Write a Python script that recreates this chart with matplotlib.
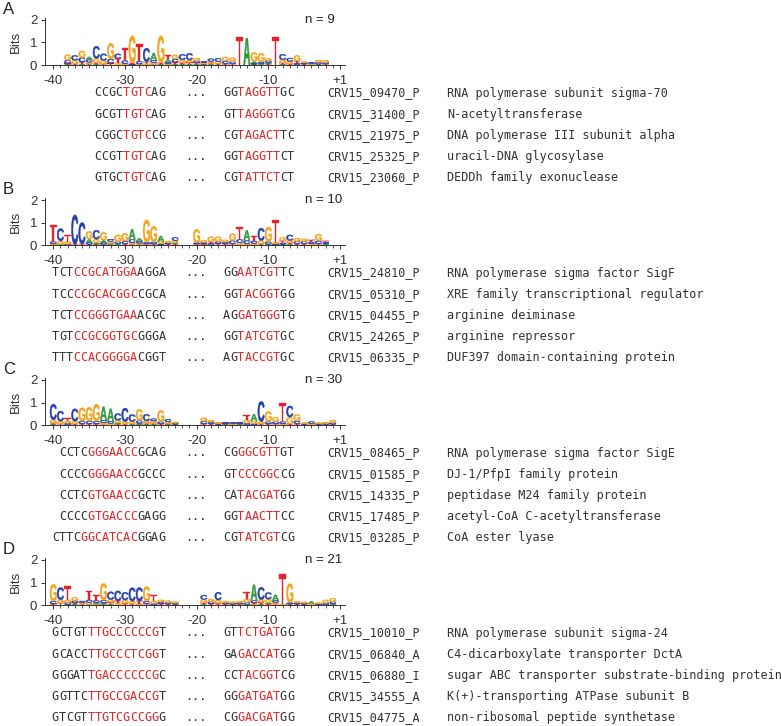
import matplotlib
matplotlib.use('Agg')
import matplotlib.pyplot as plt
from matplotlib.textpath import TextPath
from matplotlib.patches import PathPatch
from matplotlib.font_manager import FontProperties
from matplotlib.transforms import Affine2D

# ---- data ----
PANEL_LABELS = ['A', 'B', 'C', 'D']
N_SITES = [9, 10, 30, 21]
TICK_POS = [-40, -30, -20, -10, 1]
TICK_LABELS = ['-40', '-30', '-20', '-10', '+1']

# information content per position, "letter+bits", bottom to top
LOGO_A = {
    -38: "A.03 T.04 C.14 G.25", -37: "T.05 G.16 C.22", -36: "A.05 T.08 C.2 G.3",
    -35: "T.04 G.08 C.12 A.12", -34: "A.04 T.05 G.2 C.55", -33: "T.05 G.15 C.3",
    -32: "T.07 C.2 G.7", -31: "G.1 T.18 C.22", -30: "G.05 C.15 T.55",
    -29: "C.05 T.05 G1.2", -28: "G.04 C.12 T.78", -27: "G.05 T.1 C.6",
    -26: "T.03 G.08 C.1 A.32", -25: "A.05 T.05 G1.2", -24: "G.05 C.08 A.12 T.2",
    -23: "A.04 T.08 C.15 G.18", -22: "A.03 T.08 G.12 C.25", -21: "A.04 T.08 G.1 C.3",
    -20: "A.03 T.06 C.1 G.12", -19: "A.02 T.04 G.05 C.06", -18: "A.03 T.05 G.08 C.12",
    -17: "T.05 G.1 C.15", -16: "T.06 C.12 G.18", -15: "T.05 C.1 G.18",
    -14: "T1.25", -13: "A1.2", -12: "T.03 C.05 A.08 G.4", -11: "A.05 C.08 G.4",
    -10: "T.05 A.06 C.08 G.1", -9: "T1.25", -8: "A.03 T.08 G.12 C.25",
    -7: "T.06 G.1 C.15", -6: "C.08 T.1 G.25", -5: "T.04 C.05 G.06",
    -4: "A.03 G.04 C.05", -3: "A.04 C.08 G.1", -2: "T.04 C.07 G.1",
}
LOGO_B = {
    -40: "G.05 C.1 T.75", -39: "A.03 G.15 C.55", -38: "C.03 G.12 T.3",
    -37: "T.04 C1.3", -36: "T.05 C.95", -35: "T.03 C.08 A.15 G.35",
    -34: "T.03 A.08 G.15 C.4", -33: "T.03 C.08 A.1 G.35", -32: "T.03 A.05 G.08 C.1",
    -31: "A.05 C.1 G.3", -30: "T.05 C.12 G.35", -29: "T.03 G.07 C.15 A.45",
    -28: "T.03 G.05 C.1 A.12", -27: "T.04 C.08 G1.0", -26: "T.04 C.1 G.7",
    -25: "C.05 G.1 A.25", -24: "T.04 C.06 G.08", -23: "T.04 A.05 G.1 C.15",
    -20: "T.04 C.06 G.6", -19: "A.02 T.04 C.06 G.08", -18: "C.07 T.08 G.22",
    -17: "T.07 C.08 G.22", -16: "T.05 C.08 G.1", -15: "T.05 C.15 G.3",
    -14: "G.1 C.15 T.55", -13: "G.05 C.15 A.45", -12: "G.06 C.12 T.22",
    -11: "T.05 G.15 C.55", -10: "A.03 C.12 G.65", -9: "C.05 G.08 T1.0",
    -8: "A.03 C.06 T.1 G.15", -7: "A.03 T.07 G.1 C.25", -6: "T.06 C.1 G.15",
    -5: "T.06 C.1 G.12", -4: "G.06 C.08 T.08", -3: "T.05 C.14 G.3",
    -2: "A.06 C.06 T.07",
}
LOGO_C = {
    -40: "A.03 T.05 G.15 C.7", -39: "T.05 G.12 C.45", -38: "C.08 G.1 T.12",
    -37: "T.05 G.12 C.55", -36: "T.05 C.12 G.6", -35: "T.05 C.12 G.62",
    -34: "T.05 C.12 G.75", -33: "T.03 G.08 C.1 A.6", -32: "G.07 C.1 A.55",
    -31: "T.04 A.05 G.12 C.3", -30: "T.05 G.1 C.6", -29: "A.05 G.1 C.32",
    -28: "T.03 A.05 C.12 G.5", -27: "A.03 T.05 G.1 C.3", -26: "A.03 T.05 G.1 C.1",
    -25: "T.05 C.1 G.5", -24: "T.03 A.04 G.08 C.1", -23: "T.03 C.05 G.06",
    -19: "T.05 C.12 G.15", -18: "T.05 C.08 G.08", -17: "T.03 C.04 G.05",
    -16: "A.03 T.04 C.06", -15: "T.03 G.04 C.05", -14: "A.03 T.04 C.06",
    -13: "C.08 G.15 T.22", -12: "C.06 G.12 A.3", -11: "T.05 G.1 C.9",
    -10: "T.05 C.1 G.45", -9: "T.05 C.1 G.2", -8: "G.05 C.1 T.85",
    -7: "T.05 G.3 C.5", -6: "T.06 C.12 G.3", -5: "T.03 C.03 G.04",
    -4: "T.03 G.04 C.08", -3: "T.03 C.03 G.04", -2: "T.03 C.04 G.05",
    -1: "T.03 C.07 G.12",
}
LOGO_D = {
    -40: "T.05 C.12 G.75", -39: "T.08 G.15 C.55", -38: "A.03 C.08 G.12 T.6",
    -37: "A.03 T.06 C.1 G.15", -36: "T.04 G.07 C.07", -35: "A.03 G.08 C.12 T.4",
    -34: "G.04 A.06 C.1 T.25", -33: "T.03 A.06 C.12 G.75", -32: "A.04 T.08 G.12 C.35",
    -31: "G.08 T.1 C.45", -30: "T.07 G.15 C.35", -29: "T.05 G.12 C.6",
    -28: "G.06 T.12 C.6", -27: "T.05 C.12 G.65", -26: "C.06 G.12 T.25",
    -25: "T.05 C.08 G.1", -24: "T.04 C.07 G.08", -23: "T.03 C.05 G.07",
    -19: "A.03 T.06 G.15 C.2", -18: "T.05 C.1 G.12", -17: "T.07 G.15 C.35",
    -16: "T.04 C.06 G.08", -15: "T.03 C.05 G.07", -14: "T.04 C.06 G.08",
    -13: "A.03 C.08 G.15 T.3", -12: "G.04 T.06 C.1 A.7", -11: "A.04 T.08 G.12 C.55",
    -10: "T.05 A.06 G.15 C.3", -9: "T.04 G.08 C.08 A.25", -8: "G.03 T1.35",
    -7: "T.04 C.06 G.85", -6: "T.04 C.05 G.07", -5: "T.03 C.05 G.06",
    -4: "G.06 A.1", -3: "T.03 C.03 G.04", -2: "C.08 G.15", -1: "A.05 C.1 G.15",
}

# site sequences, red part in brackets
SEQ1_A = ["CCGC[TGTC]AG", "GCGT[TGTC]AG", "CGGC[TGTC]CG", "CCGT[TGTC]AG", "GTGC[TGTC]AG"]
SEQ2_A = ["GG[TAGGTT]GC", "GT[TAGGGT]CG", "CG[TAGACT]TC", "GG[TAGGTT]CT", "CG[TATTCT]CT"]
LOCUS_A = ["CRV15_09470_P", "CRV15_31400_P", "CRV15_21975_P", "CRV15_25325_P", "CRV15_23060_P"]
PRODUCT_A = ["RNA polymerase subunit sigma-70", "N-acetyltransferase",
             "DNA polymerase III subunit alpha", "uracil-DNA glycosylase",
             "DEDDh family exonuclease"]

SEQ1_B = ["TCT[CCGCATGGA]AGGA", "TCC[CCGCACGGC]CGCA", "TCT[CCGGGTGAA]ACGC",
          "TGT[CCGCGGTGC]GGGA", "TTT[CCACGGGGA]CGGT"]
SEQ2_B = ["GG[AATCGT]TC", "GG[TACGGT]GG", "AG[GATGGG]TG", "GG[TATCGT]GC", "AG[TACCGT]GC"]
LOCUS_B = ["CRV15_24810_P", "CRV15_05310_P", "CRV15_04455_P", "CRV15_24265_P", "CRV15_06335_P"]
PRODUCT_B = ["RNA polymerase sigma factor SigF", "XRE family transcriptional regulator",
             "arginine deiminase", "arginine repressor", "DUF397 domain-containing protein"]

SEQ1_C = ["CCTC[GGGAACC]GCAG", "CCCC[GGGAACC]GCCC", "CCTC[GTGAACC]GCTC",
          "CCCC[GTGACCC]GAGG", "CTTC[GGCATCAC]GGAG"]
SEQ2_C = ["CG[GGCGTT]GT", "GT[CCCGGC]CG", "CA[TACGAT]GG", "GG[TAACTT]CC", "CG[TATCGT]CG"]
LOCUS_C = ["CRV15_08465_P", "CRV15_01585_P", "CRV15_14335_P", "CRV15_17485_P", "CRV15_03285_P"]
PRODUCT_C = ["RNA polymerase sigma factor SigE", "DJ-1/PfpI family protein",
             "peptidase M24 family protein", "acetyl-CoA C-acetyltransferase",
             "CoA ester lyase"]

SEQ1_D = ["GCTGT[TTGCCCCCCG]T", "GCACC[TTGCCCTCGG]T", "GGGAT[TGACCCCCCG]C",
          "GGTTC[TTGCCGACCG]T", "GTCGT[TTGTCGCCGG]G"]
SEQ2_D = ["GT[TCTGAT]GG", "GA[GACCAT]GG", "CC[TACGGT]CG", "GG[GATGAT]GG", "CG[GACGAT]GG"]
LOCUS_D = ["CRV15_10010_P", "CRV15_06840_A", "CRV15_06880_I", "CRV15_34555_A", "CRV15_04775_A"]
PRODUCT_D = ["RNA polymerase subunit sigma-24", "C4-dicarboxylate transporter DctA",
             "sugar ABC transporter substrate-binding protein",
             "K(+)-transporting ATPase subunit B", "non-ribosomal peptide synthetase"]

LOGOS = [LOGO_A, LOGO_B, LOGO_C, LOGO_D]
SEQ1 = [SEQ1_A, SEQ1_B, SEQ1_C, SEQ1_D]
SEQ2 = [SEQ2_A, SEQ2_B, SEQ2_C, SEQ2_D]
LOCI = [LOCUS_A, LOCUS_B, LOCUS_C, LOCUS_D]
PRODUCTS = [PRODUCT_A, PRODUCT_B, PRODUCT_C, PRODUCT_D]

# ---- style ----
W, H = 781, 726
BASE_COLORS = {'A': '#2e9a3e', 'C': '#2340b0', 'G': '#f5a31c', 'T': '#e3232b'}
TXT = '#333333'
RED = '#e32626'
MONO = 'DejaVu Sans Mono'
MONO_SIZE = 8.5
CHAR_W = 0.602 * MONO_SIZE * 100 / 72  # px per char

plt.rcParams['font.family'] = ['Liberation Sans', 'DejaVu Sans']

GLYPH_FONT = FontProperties(family='Liberation Sans', weight='bold')
GLYPHS = {b: TextPath((0, 0), b, size=1, prop=GLYPH_FONT) for b in 'ACGT'}


def pos_index(p):
    return p + 40 if p < 0 else p + 39


def parse_column(spec):
    items = [(s[0], float(s[1:])) for s in spec.split()]
    return sorted(items, key=lambda t: t[1])


def draw_letter(ax, base, x, y, h, w=0.93):
    p = GLYPHS[base]
    bb = p.get_extents()
    t = (Affine2D().translate(-bb.x0, -bb.y0)
         .scale(w / bb.width, h / bb.height).translate(x - w / 2, y))
    ax.add_patch(PathPatch(t.transform_path(p), fc=BASE_COLORS[base],
                           ec=BASE_COLORS[base], lw=0.3))


def parse_seq(s):
    out, red = [], False
    for ch in s:
        if ch == '[':
            red = True
        elif ch == ']':
            red = False
        else:
            out.append((ch, red))
    return out


def fx(x):
    return x / W


def fy(y):
    return 1 - y / H


fig = plt.figure(figsize=(W / 100, H / 100), dpi=100)

for k in range(4):
    top = 180 * k
    y0 = top + 65      # baseline (0 bits) in px
    ytop = y0 - 2.07 * 22.5
    ax = fig.add_axes([fx(45), fy(y0), 300 / W, (y0 - ytop) / H])
    for p, spec in LOGOS[k].items():
        x = pos_index(p)
        y = 0
        for base, h in parse_column(spec):
            draw_letter(ax, base, x, y, h)
            y += h
    ax.set_xlim(-1.16, 40.7)
    ax.set_ylim(0, 2.07)
    ax.set_xticks([pos_index(p) for p in TICK_POS])
    ax.set_xticklabels(TICK_LABELS)
    ax.set_xticks(range(41), minor=True)
    ax.set_yticks([0, 1, 2])
    ax.tick_params(axis='both', which='major', direction='out', length=3,
                   width=0.7, labelsize=9.5, colors='#333333', pad=2.5)
    ax.tick_params(axis='x', which='minor', direction='out', length=1.8, width=0.6,
                   colors='#333333')
    ax.tick_params(axis='x', which='major', pad=4)
    for side in ['top', 'right']:
        ax.spines[side].set_visible(False)
    for side in ['left', 'bottom']:
        ax.spines[side].set_linewidth(0.7)
        ax.spines[side].set_color('#333333')
    ax.set_ylabel('Bits', fontsize=9.5, color='#333333')
    ax.yaxis.set_label_coords(-0.078, 0.5)
    ax.text(35.1, 2.0, f'n = {N_SITES[k]}', fontsize=9.5, color='#222222',
            ha='left', va='center')

    fig.text(fx(3), fy(top + 9), PANEL_LABELS[k], fontsize=12, ha='left',
             va='center', color='#222222')

    for r in range(5):
        ry = fy(top + 93 + 21.1 * r)
        chars = parse_seq(SEQ1[k][r])
        x_start = 165.5 - len(chars) * CHAR_W
        for i, (ch, red) in enumerate(chars):
            fig.text(fx(x_start + (i + 0.5) * CHAR_W), ry, ch, family=MONO,
                     fontsize=MONO_SIZE, color=RED if red else TXT,
                     ha='center', va='center')
        fig.text(fx(196), ry, '...', family=MONO, fontsize=MONO_SIZE, color=TXT,
                 ha='center', va='center')
        chars = parse_seq(SEQ2[k][r])
        for i, (ch, red) in enumerate(chars):
            fig.text(fx(223 + (i + 0.5) * CHAR_W), ry, ch, family=MONO,
                     fontsize=MONO_SIZE, color=RED if red else TXT,
                     ha='center', va='center')
        fig.text(fx(327), ry, LOCI[k][r], family=MONO, fontsize=MONO_SIZE,
                 color=TXT, ha='left', va='center')
        fig.text(fx(447), ry, PRODUCTS[k][r], family=MONO, fontsize=MONO_SIZE,
                 color=TXT, ha='left', va='center')

fig.savefig('out.png', dpi=100)
